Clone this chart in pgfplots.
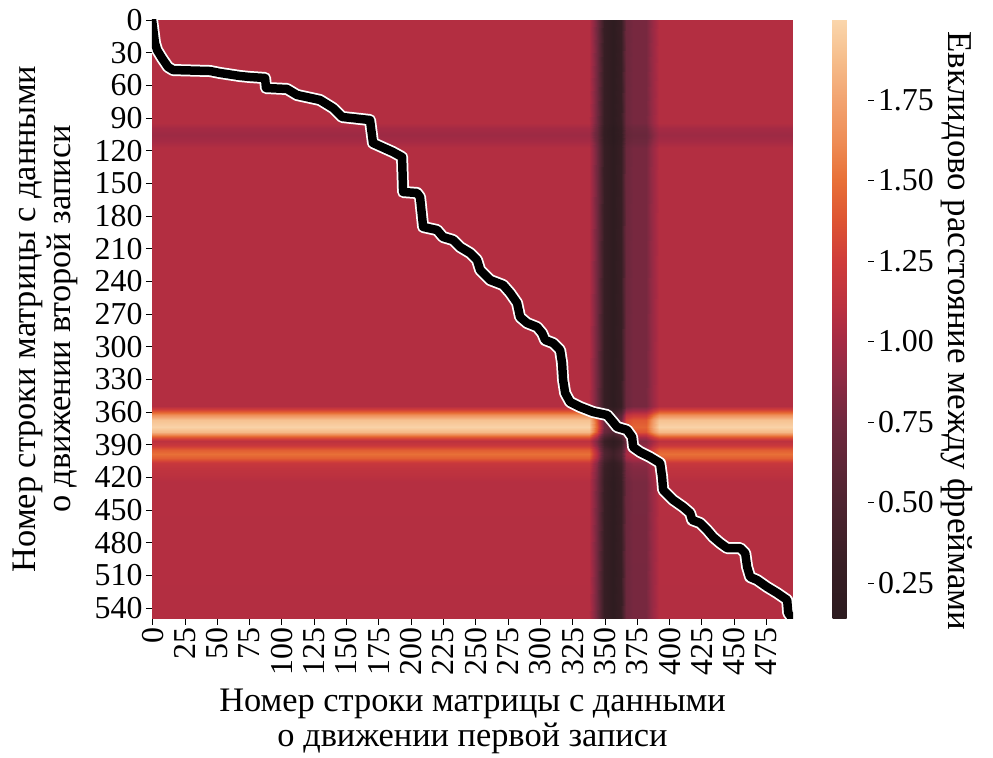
\documentclass[border=0pt]{standalone}
\usepackage{fontspec}
\setmainfont{Liberation Serif}
\usepackage{pgfplots}
\usepackage{pgfplotstable}
\pgfplotsset{compat=1.18}

% Distance matrix sampled on a coarse grid (column, row, distance);
% one scanline of 12 columns per text line.
\pgfplotstableread[row sep=\\]{
x y v\\
0 0 1.07\\ 338 0 1.07\\ 344 0 0.75\\ 350 0 0.30\\ 357 0 0.17\\ 363 0 0.30\\ 367 0 0.72\\ 372 0 0.78\\ 382 0 0.78\\ 388 0 0.95\\ 392 0 1.07\\ 496 0 1.07\\
0 95 1.07\\ 338 95 1.07\\ 344 95 0.75\\ 350 95 0.30\\ 357 95 0.17\\ 363 95 0.30\\ 367 95 0.72\\ 372 95 0.78\\ 382 95 0.78\\ 388 95 0.95\\ 392 95 1.07\\ 496 95 1.07\\
0 100 1.00\\ 338 100 1.00\\ 344 100 0.70\\ 350 100 0.27\\ 357 100 0.14\\ 363 100 0.27\\ 367 100 0.67\\ 372 100 0.73\\ 382 100 0.73\\ 388 100 0.89\\ 392 100 1.00\\ 496 100 1.00\\
0 106 0.96\\ 338 106 0.96\\ 344 106 0.67\\ 350 106 0.25\\ 357 106 0.14\\ 363 106 0.25\\ 367 106 0.64\\ 372 106 0.70\\ 382 106 0.70\\ 388 106 0.85\\ 392 106 0.96\\ 496 106 0.96\\
0 112 1.00\\ 338 112 1.00\\ 344 112 0.70\\ 350 112 0.27\\ 357 112 0.14\\ 363 112 0.27\\ 367 112 0.67\\ 372 112 0.73\\ 382 112 0.73\\ 388 112 0.89\\ 392 112 1.00\\ 496 112 1.00\\
0 118 1.07\\ 338 118 1.07\\ 344 118 0.75\\ 350 118 0.30\\ 357 118 0.17\\ 363 118 0.30\\ 367 118 0.72\\ 372 118 0.78\\ 382 118 0.78\\ 388 118 0.95\\ 392 118 1.07\\ 496 118 1.07\\
0 355 1.07\\ 338 355 1.07\\ 344 355 0.75\\ 350 355 0.30\\ 357 355 0.17\\ 363 355 0.30\\ 367 355 0.72\\ 372 355 0.78\\ 382 355 0.78\\ 388 355 0.95\\ 392 355 1.07\\ 496 355 1.07\\
0 359 1.30\\ 338 359 1.30\\ 344 359 0.92\\ 350 359 0.42\\ 357 359 0.27\\ 363 359 0.42\\ 367 359 0.88\\ 372 359 0.95\\ 382 359 0.95\\ 388 359 1.16\\ 392 359 1.30\\ 496 359 1.30\\
0 363 1.65\\ 338 363 1.65\\ 344 363 1.19\\ 350 363 0.59\\ 357 363 0.43\\ 363 363 0.59\\ 367 363 1.13\\ 372 363 1.21\\ 382 363 1.21\\ 388 363 1.47\\ 392 363 1.65\\ 496 363 1.65\\
0 368 1.90\\ 338 368 1.90\\ 344 368 1.37\\ 350 368 0.72\\ 357 368 0.54\\ 363 368 0.72\\ 367 368 1.30\\ 372 368 1.39\\ 382 368 1.39\\ 388 368 1.70\\ 392 368 1.90\\ 496 368 1.90\\
0 374 1.98\\ 338 374 1.98\\ 344 374 1.43\\ 350 374 0.76\\ 357 374 0.58\\ 363 374 0.76\\ 367 374 1.36\\ 372 374 1.45\\ 382 374 1.45\\ 388 374 1.77\\ 392 374 1.98\\ 496 374 1.98\\
0 379 1.85\\ 338 379 1.85\\ 344 379 1.34\\ 350 379 0.69\\ 357 379 0.52\\ 363 379 0.69\\ 367 379 1.27\\ 372 379 1.36\\ 382 379 1.36\\ 388 379 1.65\\ 392 379 1.85\\ 496 379 1.85\\
0 383 1.40\\ 338 383 1.40\\ 344 383 1.00\\ 350 383 0.47\\ 357 383 0.32\\ 363 383 0.47\\ 367 383 0.95\\ 372 383 1.02\\ 382 383 1.02\\ 388 383 1.25\\ 392 383 1.40\\ 496 383 1.40\\
0 387 1.12\\ 338 387 1.12\\ 344 387 0.79\\ 350 387 0.33\\ 357 387 0.19\\ 363 387 0.33\\ 367 387 0.76\\ 372 387 0.82\\ 382 387 0.82\\ 388 387 1.00\\ 392 387 1.12\\ 496 387 1.12\\
0 391 1.20\\ 338 391 1.20\\ 344 391 0.85\\ 350 391 0.37\\ 357 391 0.23\\ 363 391 0.37\\ 367 391 0.81\\ 372 391 0.88\\ 382 391 0.88\\ 388 391 1.07\\ 392 391 1.20\\ 496 391 1.20\\
0 395 1.42\\ 338 395 1.42\\ 344 395 1.01\\ 350 395 0.48\\ 357 395 0.33\\ 363 395 0.48\\ 367 395 0.97\\ 372 395 1.04\\ 382 395 1.04\\ 388 395 1.27\\ 392 395 1.42\\ 496 395 1.42\\
0 399 1.50\\ 338 399 1.50\\ 344 399 1.07\\ 350 399 0.52\\ 357 399 0.36\\ 363 399 0.52\\ 367 399 1.02\\ 372 399 1.10\\ 382 399 1.10\\ 388 399 1.34\\ 392 399 1.50\\ 496 399 1.50\\
0 403 1.42\\ 338 403 1.42\\ 344 403 1.01\\ 350 403 0.48\\ 357 403 0.33\\ 363 403 0.48\\ 367 403 0.97\\ 372 403 1.04\\ 382 403 1.04\\ 388 403 1.27\\ 392 403 1.42\\ 496 403 1.42\\
0 407 1.20\\ 338 407 1.20\\ 344 407 0.85\\ 350 407 0.37\\ 357 407 0.23\\ 363 407 0.37\\ 367 407 0.81\\ 372 407 0.88\\ 382 407 0.88\\ 388 407 1.07\\ 392 407 1.20\\ 496 407 1.20\\
0 412 1.15\\ 338 412 1.15\\ 344 412 0.81\\ 350 412 0.34\\ 357 412 0.21\\ 363 412 0.34\\ 367 412 0.78\\ 372 412 0.84\\ 382 412 0.84\\ 388 412 1.02\\ 392 412 1.15\\ 496 412 1.15\\
0 418 1.12\\ 338 418 1.12\\ 344 418 0.79\\ 350 418 0.33\\ 357 418 0.19\\ 363 418 0.33\\ 367 418 0.76\\ 372 418 0.82\\ 382 418 0.82\\ 388 418 1.00\\ 392 418 1.12\\ 496 418 1.12\\
0 425 1.08\\ 338 425 1.08\\ 344 425 0.76\\ 350 425 0.31\\ 357 425 0.17\\ 363 425 0.31\\ 367 425 0.73\\ 372 425 0.79\\ 382 425 0.79\\ 388 425 0.96\\ 392 425 1.08\\ 496 425 1.08\\
0 550 1.07\\ 338 550 1.07\\ 344 550 0.75\\ 350 550 0.30\\ 357 550 0.17\\ 363 550 0.30\\ 367 550 0.72\\ 372 550 0.78\\ 382 550 0.78\\ 388 550 0.95\\ 392 550 1.07\\ 496 550 1.07\\
}\heatgrid

% Optimal warping path (column of the first record, row of the second record)
\pgfplotstableread{
c r
0 0
2.3 21.6
3.9 28
7.7 35.4
12.4 43.6
16.3 46.4
44.9 47.3
52.6 49.1
68.1 51.9
75.9 52.8
87.5 53.7
88.2 62.9
104.5 63.8
112.2 69.3
130 73.9
140.1 81.3
147.1 89.5
168.7 92.3
171 113.4
186.5 121.7
193.5 126.3
194.3 158.4
205.1 159.3
207.4 163
209.8 190.5
220.6 193.3
225.2 199.7
233 202.5
238.4 208.9
246.1 214.4
251.5 220.8
253.9 230
261.6 239.2
271.7 243.8
277.1 251.1
282.5 260.3
284.8 273.2
290.2 278.7
298 282.4
301.9 287.9
304.2 294.3
310.4 297.1
315.8 303.5
317.3 315.4
318.1 331
319.7 343
323.5 351.2
331.3 355.8
341.3 360.4
352.2 363.2
356.8 369.6
359.9 374.2
367.6 376.9
371.5 383.4
372.3 392.6
377.7 397.1
385.4 401.7
393.2 407.3
394.7 420.1
395.5 432
403.3 441.2
411 447.6
416.4 453.1
418 459.6
424.1 462.3
429.6 468.8
434.2 475.2
439.6 480.7
445 485.3
455.1 485.3
459 489.9
460.5 502.7
462.8 511.9
468.3 514.7
476 521.1
483.7 526.6
491.5 533
492.3 544.9
495.5 550
}\warppath

\begin{document}
\begin{tikzpicture}
\begin{axis}[
  scale only axis,
  width=641bp, height=599bp,
  xmin=0, xmax=496, ymin=0, ymax=550,
  y dir=reverse,
  enlargelimits=false,
  axis line style={draw=none},
  tick align=outside,
  xtick pos=bottom, ytick pos=left,
  major tick length=6bp,
  tick style={black, line width=0.9bp},
  xtick={0.5,25.5,50.5,75.5,100.5,125.5,150.5,175.5,200.5,225.5,250.5,275.5,300.5,325.5,350.5,375.5,400.5,425.5,450.5,475.5},
  xticklabels={0,25,50,75,100,125,150,175,200,225,250,275,300,325,350,375,400,425,450,475},
  ytick={0.5,30.5,60.5,90.5,120.5,150.5,180.5,210.5,240.5,270.5,300.5,330.5,360.5,390.5,420.5,450.5,480.5,510.5,540.5},
  yticklabels={0,30,60,90,120,150,180,210,240,270,300,330,360,390,420,450,480,510,540},
  xticklabel style={rotate=90, anchor=east},
  tick label style={font=\fontsize{32}{36}\selectfont},
  label style={font=\fontsize{34.5}{35}\selectfont, align=center},
  xlabel={Номер строки матрицы с данными\\о движении первой записи},
  ylabel={Номер строки матрицы с данными\\о движении второй записи},
  xlabel style={yshift=-6bp},
  ylabel style={yshift=10bp},
  colormap={distmap}{
    rgb255(14pt)=(44,27,31);
    rgb255(30pt)=(55,30,36);
    rgb255(50pt)=(78,36,48);
    rgb255(75pt)=(112,40,62);
    rgb255(90pt)=(145,42,68);
    rgb255(100pt)=(165,42,68);
    rgb255(110pt)=(185,48,64);
    rgb255(125pt)=(207,60,58);
    rgb255(138pt)=(222,85,50);
    rgb255(150pt)=(232,112,55);
    rgb255(162pt)=(238,140,85);
    rgb255(175pt)=(242,163,112);
    rgb255(188pt)=(246,190,140);
    rgb255(200pt)=(250,214,172)},
  point meta min=0.14, point meta max=2.0,
  colorbar,
  colorbar style={
    at={(parent axis.north east)}, anchor=north west, xshift=31bp,
    width=35bp,
    axis line style={draw=none},
    ytick={0.25,0.5,0.75,1,1.25,1.5,1.75},
    ytick pos=right, yticklabel pos=right,
    tick align=outside,
    major tick length=6bp,
    tick style={black, line width=0.9bp},
    yticklabel style={font=\fontsize{32}{36}\selectfont, xshift=1bp,
      /pgf/number format/.cd, fixed, fixed zerofill, precision=2, assume math mode=true},
    ylabel={Евклидово расстояние между фреймами},
    ylabel near ticks,
    ylabel style={font=\fontsize{35}{36}\selectfont, rotate=180, xshift=12bp},
  },
  /pgf/number format/assume math mode=true,
]
\addplot[surf, shader=interp, mesh/cols=12, point meta=\thisrow{v}]
  table[x=x, y=y] {\heatgrid};
\addplot[white, line width=12bp, line join=round, line cap=round] table[x=c, y=r] {\warppath};
\addplot[black, line width=8.5bp, line join=round, line cap=round] table[x=c, y=r] {\warppath};
\end{axis}
\pgfresetboundingbox
\path[use as bounding box] (-152bp,-139.5bp) rectangle (841bp,618.5bp);
\end{tikzpicture}
\end{document}
